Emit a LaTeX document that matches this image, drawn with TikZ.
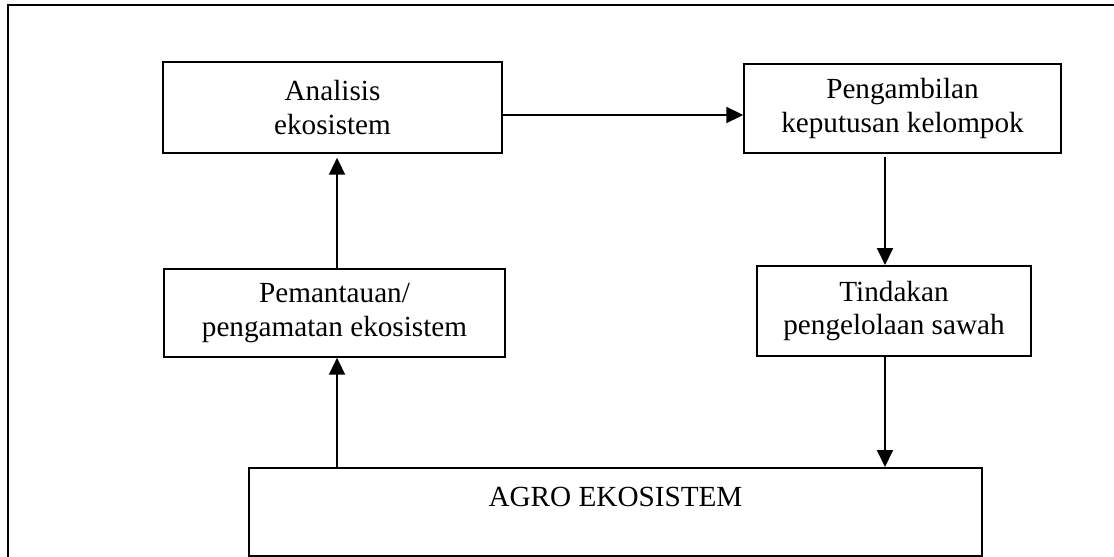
\documentclass[tikz,border=0pt]{standalone}
\usepackage{fontspec}
\setmainfont{Liberation Serif}
\usetikzlibrary{arrows.meta}
\begin{document}
\begin{tikzpicture}[x=0.5pt,y=-0.5pt,
  thinbox/.style={draw, line width=0.7pt, inner sep=0pt, align=center,
    font=\fontsize{14.6pt}{16.8pt}\selectfont},
  thickbox/.style={thinbox, line width=1pt},
  arr/.style={line width=1pt, -{Triangle[length=8.5pt,width=8pt]}},
  lbl/.style={inner sep=0pt, font=\fontsize{14.6pt}{16.8pt}\selectfont}]
\useasboundingbox (0,0) rectangle (1114,557);
\begin{scope}
\clip (0,0) rectangle (1114,557);
\draw[line width=1pt] (8,5) rectangle (1130,580);
\end{scope}
\node[thinbox, minimum width=169.5pt, minimum height=45.5pt] (ana) at (332.5,107.5) {Analisis\\ekosistem};
\node[thinbox, minimum width=158.5pt, minimum height=44.5pt] (peng) at (902.5,108.5) {Pengambilan\\keputusan kelompok};
\node[thinbox, minimum width=170.5pt, minimum height=44pt] (pem) at (334.5,313) {Pemantauan/\\pengamatan ekosistem};
\node[thickbox, minimum width=137pt, minimum height=45pt] (tin) at (894,311) {Tindakan\\pengelolaan sawah};
\node[thickbox, minimum width=366.5pt, minimum height=44pt] (agro) at (615.5,512) {};
\node[lbl] (agrotext) at (615.5,497) {AGRO EKOSISTEM};
\coordinate (lx) at (337,0);
\coordinate (rx) at (885,0);
\coordinate (hy) at (0,115);
\draw[arr] (ana.east |- hy) -- (peng.west |- hy);
\draw[arr] ([yshift=-1.5pt]peng.south -| rx) -- (tin.north -| rx);
\draw[arr] (tin.south -| rx) -- (agro.north -| rx);
\draw[arr] (agro.north -| lx) -- (pem.south -| lx);
\draw[arr] (pem.north -| lx) -- ([yshift=-2pt]ana.south -| lx);
\end{tikzpicture}
\end{document}
